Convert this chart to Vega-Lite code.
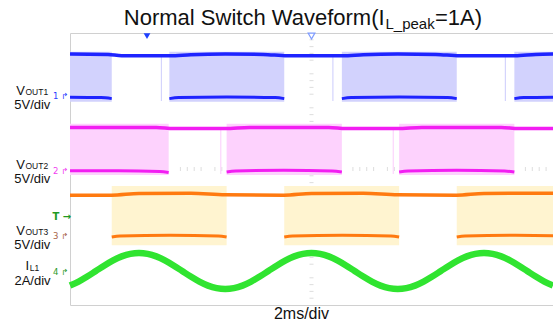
{
  "$schema": "https://vega.github.io/schema/vega-lite/v6.json",
  "width": 483,
  "height": 272,
  "autosize": {"type": "none"},
  "padding": {"left": 70, "top": 33, "right": 0, "bottom": 21},
  "background": "white",
  "config": {
    "view": {"stroke": "#d0d0d0", "strokeWidth": 1},
    "font": "Liberation Sans",
    "text": {"font": "Liberation Sans"}
  },
  "data": {"values": [{}]},
  "datasets": {
    "minor": [
      {"v": 0.2}, {"v": 0.4}, {"v": 0.6}, {"v": 0.8}, {"v": 1.2}, {"v": 1.4}, {"v": 1.6}, {"v": 1.8},
      {"v": 2.2}, {"v": 2.4}, {"v": 2.6}, {"v": 2.8}, {"v": 3.2}, {"v": 3.4}, {"v": 3.6}, {"v": 3.8},
      {"v": 4.2}, {"v": 4.4}, {"v": 4.6}, {"v": 4.8}, {"v": 5.2}, {"v": 5.4}, {"v": 5.6}, {"v": 5.8},
      {"v": 6.2}, {"v": 6.4}, {"v": 6.6}, {"v": 6.8}, {"v": 7.2}, {"v": 7.4}, {"v": 7.6}, {"v": 7.8},
      {"v": 8.2}, {"v": 8.4}, {"v": 8.6}, {"v": 8.8}, {"v": 9.2}, {"v": 9.4}, {"v": 9.6}, {"v": 9.8},
      {"v": 10.2}, {"v": 10.4}, {"v": 10.6}, {"v": 10.8}, {"v": 11.2}, {"v": 11.4}, {"v": 11.6}, {"v": 11.8},
      {"v": 12.2}, {"v": 12.4}, {"v": 12.6}, {"v": 12.8}, {"v": 13.2}, {"v": 13.4}, {"v": 13.6}, {"v": 13.8}
    ],
    "fills": [
      {"ch": "1", "x0": 0, "x1": 1.21, "y0": 5.98, "y1": 7.45},
      {"ch": "1", "x0": 2.88, "x1": 6.21, "y0": 5.98, "y1": 7.45},
      {"ch": "1", "x0": 7.88, "x1": 11.21, "y0": 5.98, "y1": 7.45},
      {"ch": "1", "x0": 12.88, "x1": 14, "y0": 5.98, "y1": 7.45},
      {"ch": "2", "x0": 0, "x1": 2.86, "y0": 3.82, "y1": 5.33},
      {"ch": "2", "x0": 4.54, "x1": 7.88, "y0": 3.82, "y1": 5.33},
      {"ch": "2", "x0": 9.54, "x1": 12.88, "y0": 3.82, "y1": 5.33},
      {"ch": "3", "x0": 1.21, "x1": 4.54, "y0": 1.76, "y1": 3.5},
      {"ch": "3", "x0": 6.21, "x1": 9.54, "y0": 1.76, "y1": 3.5},
      {"ch": "3", "x0": 11.21, "x1": 14, "y0": 1.76, "y1": 3.5}
    ],
    "spikes": [
      {"ch": "1", "x": 2.65, "y0": 6.0, "y1": 7.35},
      {"ch": "1", "x": 7.62, "y0": 6.0, "y1": 7.35},
      {"ch": "1", "x": 12.62, "y0": 6.0, "y1": 7.35},
      {"ch": "2", "x": 4.37, "y0": 3.85, "y1": 5.2},
      {"ch": "2", "x": 9.37, "y0": 3.85, "y1": 5.2}
    ],
    "high": [
      {"ch": "1", "x": 0, "y": 7.38}, {"ch": "1", "x": 1.1, "y": 7.37}, {"ch": "1", "x": 1.5, "y": 7.33},
      {"ch": "1", "x": 2.9, "y": 7.33}, {"ch": "1", "x": 3.5, "y": 7.36}, {"ch": "1", "x": 4.5, "y": 7.38},
      {"ch": "1", "x": 5.6, "y": 7.37}, {"ch": "1", "x": 6.3, "y": 7.33}, {"ch": "1", "x": 7.9, "y": 7.33},
      {"ch": "1", "x": 8.5, "y": 7.36}, {"ch": "1", "x": 9.5, "y": 7.38}, {"ch": "1", "x": 10.6, "y": 7.37},
      {"ch": "1", "x": 11.3, "y": 7.33}, {"ch": "1", "x": 12.9, "y": 7.33}, {"ch": "1", "x": 13.5, "y": 7.37},
      {"ch": "1", "x": 14, "y": 7.38},
      {"ch": "2", "x": 0, "y": 5.22}, {"ch": "2", "x": 2.5, "y": 5.22}, {"ch": "2", "x": 3.0, "y": 5.19},
      {"ch": "2", "x": 4.5, "y": 5.19}, {"ch": "2", "x": 5.2, "y": 5.22}, {"ch": "2", "x": 7.5, "y": 5.22},
      {"ch": "2", "x": 8.0, "y": 5.19}, {"ch": "2", "x": 9.5, "y": 5.19}, {"ch": "2", "x": 10.2, "y": 5.22},
      {"ch": "2", "x": 12.5, "y": 5.22}, {"ch": "2", "x": 13.0, "y": 5.19}, {"ch": "2", "x": 14, "y": 5.19},
      {"ch": "3", "x": 0, "y": 3.23}, {"ch": "3", "x": 1.2, "y": 3.23}, {"ch": "3", "x": 2.0, "y": 3.28},
      {"ch": "3", "x": 3.5, "y": 3.29}, {"ch": "3", "x": 4.5, "y": 3.24}, {"ch": "3", "x": 6.2, "y": 3.23},
      {"ch": "3", "x": 7.0, "y": 3.28}, {"ch": "3", "x": 8.5, "y": 3.29}, {"ch": "3", "x": 9.5, "y": 3.24},
      {"ch": "3", "x": 11.2, "y": 3.23}, {"ch": "3", "x": 12.0, "y": 3.28}, {"ch": "3", "x": 14, "y": 3.29}
    ],
    "low": [
      {"ch": "1", "seg": "1a", "x": 0, "y": 6.11}, {"ch": "1", "seg": "1a", "x": 0.9, "y": 6.1}, {"ch": "1", "seg": "1a", "x": 1.21, "y": 6.07},
      {"ch": "1", "seg": "1b", "x": 2.88, "y": 6.07}, {"ch": "1", "seg": "1b", "x": 3.15, "y": 6.1}, {"ch": "1", "seg": "1b", "x": 4.55, "y": 6.12}, {"ch": "1", "seg": "1b", "x": 5.95, "y": 6.1}, {"ch": "1", "seg": "1b", "x": 6.21, "y": 6.07},
      {"ch": "1", "seg": "1c", "x": 7.88, "y": 6.07}, {"ch": "1", "seg": "1c", "x": 8.15, "y": 6.1}, {"ch": "1", "seg": "1c", "x": 9.55, "y": 6.12}, {"ch": "1", "seg": "1c", "x": 10.95, "y": 6.1}, {"ch": "1", "seg": "1c", "x": 11.21, "y": 6.07},
      {"ch": "1", "seg": "1d", "x": 12.88, "y": 6.07}, {"ch": "1", "seg": "1d", "x": 13.15, "y": 6.1}, {"ch": "1", "seg": "1d", "x": 14, "y": 6.11},
      {"ch": "2", "seg": "2a", "x": 0, "y": 3.95}, {"ch": "2", "seg": "2a", "x": 1.4, "y": 3.95}, {"ch": "2", "seg": "2a", "x": 2.6, "y": 3.93}, {"ch": "2", "seg": "2a", "x": 2.86, "y": 3.9},
      {"ch": "2", "seg": "2b", "x": 4.54, "y": 3.91}, {"ch": "2", "seg": "2b", "x": 4.8, "y": 3.94}, {"ch": "2", "seg": "2b", "x": 6.2, "y": 3.96}, {"ch": "2", "seg": "2b", "x": 7.6, "y": 3.94}, {"ch": "2", "seg": "2b", "x": 7.88, "y": 3.91},
      {"ch": "2", "seg": "2c", "x": 9.54, "y": 3.91}, {"ch": "2", "seg": "2c", "x": 9.8, "y": 3.94}, {"ch": "2", "seg": "2c", "x": 11.2, "y": 3.96}, {"ch": "2", "seg": "2c", "x": 12.6, "y": 3.94}, {"ch": "2", "seg": "2c", "x": 12.88, "y": 3.91},
      {"ch": "3", "seg": "3a", "x": 1.21, "y": 2.0}, {"ch": "3", "seg": "3a", "x": 1.45, "y": 2.03}, {"ch": "3", "seg": "3a", "x": 2.9, "y": 2.05}, {"ch": "3", "seg": "3a", "x": 4.3, "y": 2.03}, {"ch": "3", "seg": "3a", "x": 4.54, "y": 2.0},
      {"ch": "3", "seg": "3b", "x": 6.21, "y": 2.0}, {"ch": "3", "seg": "3b", "x": 6.45, "y": 2.03}, {"ch": "3", "seg": "3b", "x": 7.9, "y": 2.05}, {"ch": "3", "seg": "3b", "x": 9.3, "y": 2.03}, {"ch": "3", "seg": "3b", "x": 9.54, "y": 2.0},
      {"ch": "3", "seg": "3c", "x": 11.21, "y": 2.0}, {"ch": "3", "seg": "3c", "x": 11.45, "y": 2.03}, {"ch": "3", "seg": "3c", "x": 12.9, "y": 2.05}, {"ch": "3", "seg": "3c", "x": 14, "y": 2.04}
    ],
    "green": [
      {"x": 0, "i": 0.571}, {"x": 0.25, "i": 0.688}, {"x": 0.5, "i": 0.836}, {"x": 0.75, "i": 1.0},
      {"x": 1.0, "i": 1.164}, {"x": 1.25, "i": 1.312}, {"x": 1.5, "i": 1.429}, {"x": 1.75, "i": 1.504},
      {"x": 2.0, "i": 1.53}, {"x": 2.25, "i": 1.504}, {"x": 2.5, "i": 1.429}, {"x": 2.75, "i": 1.312},
      {"x": 3.0, "i": 1.164}, {"x": 3.25, "i": 1.0}, {"x": 3.5, "i": 0.836}, {"x": 3.75, "i": 0.688},
      {"x": 4.0, "i": 0.571}, {"x": 4.25, "i": 0.496}, {"x": 4.5, "i": 0.47}, {"x": 4.75, "i": 0.496},
      {"x": 5.0, "i": 0.571}, {"x": 5.25, "i": 0.688}, {"x": 5.5, "i": 0.836}, {"x": 5.75, "i": 1.0},
      {"x": 6.0, "i": 1.164}, {"x": 6.25, "i": 1.312}, {"x": 6.5, "i": 1.429}, {"x": 6.75, "i": 1.504},
      {"x": 7.0, "i": 1.53}, {"x": 7.25, "i": 1.504}, {"x": 7.5, "i": 1.429}, {"x": 7.75, "i": 1.312},
      {"x": 8.0, "i": 1.164}, {"x": 8.25, "i": 1.0}, {"x": 8.5, "i": 0.836}, {"x": 8.75, "i": 0.688},
      {"x": 9.0, "i": 0.571}, {"x": 9.25, "i": 0.496}, {"x": 9.5, "i": 0.47}, {"x": 9.75, "i": 0.496},
      {"x": 10.0, "i": 0.571}, {"x": 10.25, "i": 0.688}, {"x": 10.5, "i": 0.836}, {"x": 10.75, "i": 1.0},
      {"x": 11.0, "i": 1.164}, {"x": 11.25, "i": 1.312}, {"x": 11.5, "i": 1.429}, {"x": 11.75, "i": 1.504},
      {"x": 12.0, "i": 1.53}, {"x": 12.25, "i": 1.504}, {"x": 12.5, "i": 1.429}, {"x": 12.75, "i": 1.312},
      {"x": 13.0, "i": 1.164}, {"x": 13.25, "i": 1.0}, {"x": 13.5, "i": 0.836}, {"x": 13.75, "i": 0.688},
      {"x": 14.0, "i": 0.571}
    ]
  },
  "resolve": {"scale": {"color": "independent"}},
  "layer": [
    {
      "data": {"name": "minor"},
      "transform": [{"filter": "datum.v < 8"}],
      "mark": {"type": "tick", "orient": "horizontal", "size": 4, "color": "#cfcfcf", "thickness": 1},
      "encoding": {
        "x": {"datum": 7, "type": "quantitative", "scale": {"domain": [0, 14], "nice": false, "zero": false},
          "axis": {"values": [0,1,2,3,4,5,6,7,8,9,10,11,12,13,14], "grid": true, "gridColor": "#d8d8d8", "gridWidth": 1, "labels": false, "ticks": false, "domain": false, "title": null}},
        "y": {"field": "v", "type": "quantitative", "scale": {"domain": [0, 8], "nice": false, "zero": false},
          "axis": {"values": [0,1,2,3,4,5,6,7,8], "grid": true, "gridColor": "#d8d8d8", "gridWidth": 1, "labels": false, "ticks": false, "domain": false, "title": null}}
      }
    },
    {
      "data": {"name": "minor"},
      "mark": {"type": "tick", "orient": "vertical", "size": 4, "color": "#cfcfcf", "thickness": 1},
      "encoding": {
        "x": {"field": "v", "type": "quantitative", "axis": null},
        "y": {"datum": 4, "type": "quantitative", "axis": null}
      }
    },
    {
      "data": {"name": "fills"},
      "mark": {"type": "rect", "opacity": 1},
      "encoding": {
        "x": {"field": "x0", "type": "quantitative", "axis": null},
        "x2": {"field": "x1"},
        "y": {"field": "y0", "type": "quantitative", "axis": null},
        "y2": {"field": "y1"},
        "color": {"field": "ch", "type": "nominal", "legend": null,
          "scale": {"domain": ["1", "2", "3"], "range": ["#d2d2fd", "#fdd2fd", "#fff4d0"]}}
      }
    },
    {
      "data": {"name": "spikes"},
      "mark": {"type": "rule", "strokeWidth": 1.2},
      "encoding": {
        "x": {"field": "x", "type": "quantitative", "axis": null},
        "y": {"field": "y0", "type": "quantitative", "axis": null},
        "y2": {"field": "y1"},
        "color": {"field": "ch", "type": "nominal", "legend": null,
          "scale": {"domain": ["1", "2"], "range": ["#d4d4fc", "#fcd4fc"]}}
      }
    },
    {
      "data": {"name": "high"},
      "mark": {"type": "line", "strokeWidth": 3.5, "interpolate": "monotone"},
      "encoding": {
        "x": {"field": "x", "type": "quantitative", "axis": null},
        "y": {"field": "y", "type": "quantitative", "axis": null},
        "detail": {"field": "ch"},
        "color": {"field": "ch", "type": "nominal", "legend": null,
          "scale": {"domain": ["1", "2", "3"], "range": ["#1e24ff", "#f21ef2", "#ff7a10"]}}
      }
    },
    {
      "data": {"name": "low"},
      "mark": {"type": "line", "strokeWidth": 3, "interpolate": "monotone"},
      "encoding": {
        "x": {"field": "x", "type": "quantitative", "axis": null},
        "y": {"field": "y", "type": "quantitative", "axis": null},
        "detail": {"field": "seg"},
        "color": {"field": "ch", "type": "nominal", "legend": null,
          "scale": {"domain": ["1", "2", "3"], "range": ["#1e24ff", "#f21ef2", "#ff7a10"]}}
      }
    },
    {
      "data": {"name": "green"},
      "mark": {"type": "line", "strokeWidth": 6.5, "color": "#30e430", "interpolate": "monotone"},
      "encoding": {
        "x": {"field": "x", "type": "quantitative", "axis": null},
        "y": {"field": "i", "type": "quantitative", "axis": null}
      }
    },
    {
      "mark": {"type": "point", "shape": "triangle-down", "size": 45, "filled": true, "color": "#1e40ff", "opacity": 1},
      "encoding": {"x": {"datum": 2.232, "type": "quantitative"}, "y": {"datum": 7.91, "type": "quantitative"}}
    },
    {
      "mark": {"type": "point", "shape": "triangle-down", "size": 45, "filled": false, "stroke": "#7f9cff", "fill": "white", "strokeWidth": 1.2, "opacity": 1},
      "encoding": {"x": {"datum": 7, "type": "quantitative"}, "y": {"datum": 7.91, "type": "quantitative"}}
    },
    {
      "mark": {"type": "text", "text": "Normal Switch Waveform(I", "align": "right", "baseline": "alphabetic", "fontSize": 22, "color": "#111111"},
      "encoding": {"x": {"datum": 9.119, "type": "quantitative"}, "y": {"datum": 8.235, "type": "quantitative"}}
    },
    {
      "mark": {"type": "text", "text": "L_peak", "align": "left", "baseline": "alphabetic", "fontSize": 15, "color": "#111111"},
      "encoding": {"x": {"datum": 9.145, "type": "quantitative"}, "y": {"datum": 8.103, "type": "quantitative"}}
    },
    {
      "mark": {"type": "text", "text": "=1A)", "align": "left", "baseline": "alphabetic", "fontSize": 22, "color": "#111111"},
      "encoding": {"x": {"datum": 10.58, "type": "quantitative"}, "y": {"datum": 8.235, "type": "quantitative"}}
    },
    {
      "mark": {"type": "text", "text": "V", "align": "right", "baseline": "alphabetic", "fontSize": 13, "color": "#111111"},
      "encoding": {"x": {"datum": -1.31, "type": "quantitative"}, "y": {"datum": 6.19, "type": "quantitative"}}
    },
    {
      "mark": {"type": "text", "text": "OUT1", "align": "left", "baseline": "alphabetic", "fontSize": 8.5, "color": "#111111"},
      "encoding": {"x": {"datum": -1.29, "type": "quantitative"}, "y": {"datum": 6.19, "type": "quantitative"}}
    },
    {
      "mark": {"type": "text", "text": "5V/div", "align": "center", "baseline": "alphabetic", "fontSize": 13, "color": "#111111"},
      "encoding": {"x": {"datum": -1.093, "type": "quantitative"}, "y": {"datum": 5.77, "type": "quantitative"}}
    },
    {
      "mark": {"type": "text", "text": "V", "align": "right", "baseline": "alphabetic", "fontSize": 13, "color": "#111111"},
      "encoding": {"x": {"datum": -1.31, "type": "quantitative"}, "y": {"datum": 4.01, "type": "quantitative"}}
    },
    {
      "mark": {"type": "text", "text": "OUT2", "align": "left", "baseline": "alphabetic", "fontSize": 8.5, "color": "#111111"},
      "encoding": {"x": {"datum": -1.29, "type": "quantitative"}, "y": {"datum": 4.01, "type": "quantitative"}}
    },
    {
      "mark": {"type": "text", "text": "5V/div", "align": "center", "baseline": "alphabetic", "fontSize": 13, "color": "#111111"},
      "encoding": {"x": {"datum": -1.093, "type": "quantitative"}, "y": {"datum": 3.6, "type": "quantitative"}}
    },
    {
      "mark": {"type": "text", "text": "V", "align": "right", "baseline": "alphabetic", "fontSize": 13, "color": "#111111"},
      "encoding": {"x": {"datum": -1.31, "type": "quantitative"}, "y": {"datum": 2.045, "type": "quantitative"}}
    },
    {
      "mark": {"type": "text", "text": "OUT3", "align": "left", "baseline": "alphabetic", "fontSize": 8.5, "color": "#111111"},
      "encoding": {"x": {"datum": -1.29, "type": "quantitative"}, "y": {"datum": 2.045, "type": "quantitative"}}
    },
    {
      "mark": {"type": "text", "text": "5V/div", "align": "center", "baseline": "alphabetic", "fontSize": 13, "color": "#111111"},
      "encoding": {"x": {"datum": -1.093, "type": "quantitative"}, "y": {"datum": 1.64, "type": "quantitative"}}
    },
    {
      "mark": {"type": "text", "text": "I", "align": "right", "baseline": "alphabetic", "fontSize": 13, "color": "#111111"},
      "encoding": {"x": {"datum": -1.185, "type": "quantitative"}, "y": {"datum": 1.04, "type": "quantitative"}}
    },
    {
      "mark": {"type": "text", "text": "L1", "align": "left", "baseline": "alphabetic", "fontSize": 8.5, "color": "#111111"},
      "encoding": {"x": {"datum": -1.165, "type": "quantitative"}, "y": {"datum": 1.01, "type": "quantitative"}}
    },
    {
      "mark": {"type": "text", "text": "2A/div", "align": "center", "baseline": "alphabetic", "fontSize": 13, "color": "#111111"},
      "encoding": {"x": {"datum": -1.087, "type": "quantitative"}, "y": {"datum": 0.6, "type": "quantitative"}}
    },
    {
      "mark": {"type": "text", "text": "1 ↱", "align": "left", "baseline": "middle", "fontSize": 8.5, "font": "DejaVu Sans", "color": "#2a3cff"},
      "encoding": {"x": {"datum": -0.493, "type": "quantitative"}, "y": {"datum": 6.147, "type": "quantitative"}}
    },
    {
      "mark": {"type": "text", "text": "2 ↱", "align": "left", "baseline": "middle", "fontSize": 8.5, "font": "DejaVu Sans", "color": "#f03cf0"},
      "encoding": {"x": {"datum": -0.493, "type": "quantitative"}, "y": {"datum": 3.941, "type": "quantitative"}}
    },
    {
      "mark": {"type": "text", "text": "T →", "align": "left", "baseline": "middle", "fontSize": 10, "fontWeight": "bold", "font": "DejaVu Sans", "color": "#229a22"},
      "encoding": {"x": {"datum": -0.51, "type": "quantitative"}, "y": {"datum": 2.588, "type": "quantitative"}}
    },
    {
      "mark": {"type": "text", "text": "3 ↱", "align": "left", "baseline": "middle", "fontSize": 8.5, "font": "DejaVu Sans", "color": "#a8624a"},
      "encoding": {"x": {"datum": -0.493, "type": "quantitative"}, "y": {"datum": 2.015, "type": "quantitative"}}
    },
    {
      "mark": {"type": "text", "text": "4 ↱", "align": "left", "baseline": "middle", "fontSize": 8.5, "font": "DejaVu Sans", "color": "#2a9a2a"},
      "encoding": {"x": {"datum": -0.493, "type": "quantitative"}, "y": {"datum": 0.971, "type": "quantitative"}}
    },
    {
      "mark": {"type": "text", "text": "2ms/div", "align": "center", "baseline": "alphabetic", "fontSize": 16, "color": "#111111"},
      "encoding": {"x": {"datum": 6.71, "type": "quantitative"}, "y": {"datum": -0.412, "type": "quantitative"}}
    }
  ]
}
